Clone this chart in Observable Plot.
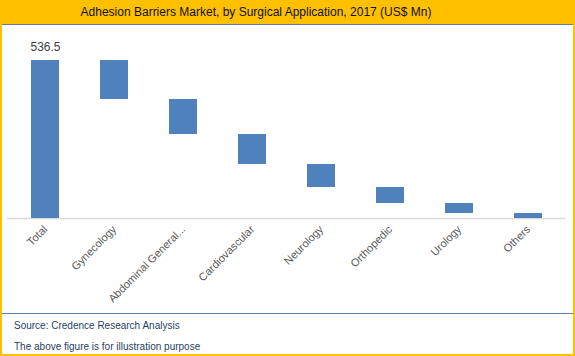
<!DOCTYPE html>
<html>
<head>
<meta charset="utf-8">
<script src="https://cdn.jsdelivr.net/npm/d3@7"></script>
<script src="https://cdn.jsdelivr.net/npm/@observablehq/plot@0.6"></script>
<style>
  html, body { margin: 0; padding: 0; background: #fff; }
  #wrap { width: 575px; height: 356px; box-sizing: border-box; border: 2px solid #FFC000; border-top: none; position: relative; overflow: hidden; font-family: "Liberation Sans", Arial, sans-serif; }
  #title { height: 25px; background: #FFC000; border-bottom: 1px solid #5A7FAE; box-sizing: border-box; margin: 0 -2px; padding-right: 63px; text-align: center; font-size: 12px; line-height: 25px; color: #111; }
  #chart { height: 288px; }
  #foot { border-top: 1px solid #5A7FAE; margin: 0 -2px; padding-left: 14px; font-size: 10px; color: #1F3F5F; }
  #foot div { line-height: 10px; }
</style>
</head>
<body>
<div id="wrap">
  <div id="title">Adhesion Barriers Market, by Surgical Application, 2017 (US$ Mn)</div>
  <div id="chart"></div>
  <div id="foot">
    <div style="margin-top:7px">Source: Credence Research Analysis</div>
    <div style="margin-top:11px">The above figure is for illustration purpose</div>
  </div>
</div>
<script>
const categories = ["Total", "Gynecology", "Abdominal General...", "Cardiovascular", "Neurology", "Orthopedic", "Urology", "Others"];
const totalValue = 536.5;
const segmentValues = [132.4, 118.9, 101.9, 78.1, 54.3, 34.0, 16.9];

const rows = [{cat: categories[0], y1: 0, y2: totalValue, value: totalValue}];
let level = totalValue;
segmentValues.forEach((v, i) => {
  rows.push({cat: categories[i + 1], y1: level - v, y2: level, value: v});
  level -= v;
});

const chart = Plot.plot({
  width: 571,
  height: 288,
  marginLeft: 5,
  marginRight: 8,
  marginTop: 35,
  marginBottom: 95,
  style: {fontFamily: "'Liberation Sans', Arial, sans-serif", background: "#fff"},
  x: {domain: categories, paddingInner: 0.6, paddingOuter: 0.3, label: null},
  y: {domain: [0, totalValue], axis: null},
  marks: [
    Plot.ruleY([0], {stroke: "#d9d9d9", strokeWidth: 1.5}),
    Plot.barY(rows, {x: "cat", y1: "y1", y2: "y2", fill: "#4F81BD"}),
    Plot.text([rows[0]], {x: "cat", y: "y2", text: d => d.value.toFixed(1), dy: -13, fontSize: 12, fill: "#404040"}),
    Plot.axisX({tickSize: 0, tickRotate: -45, tickPadding: 9, fontSize: 11, fill: "#595959", label: null})
  ]
});
document.getElementById("chart").appendChild(chart);
</script>
</body>
</html>
